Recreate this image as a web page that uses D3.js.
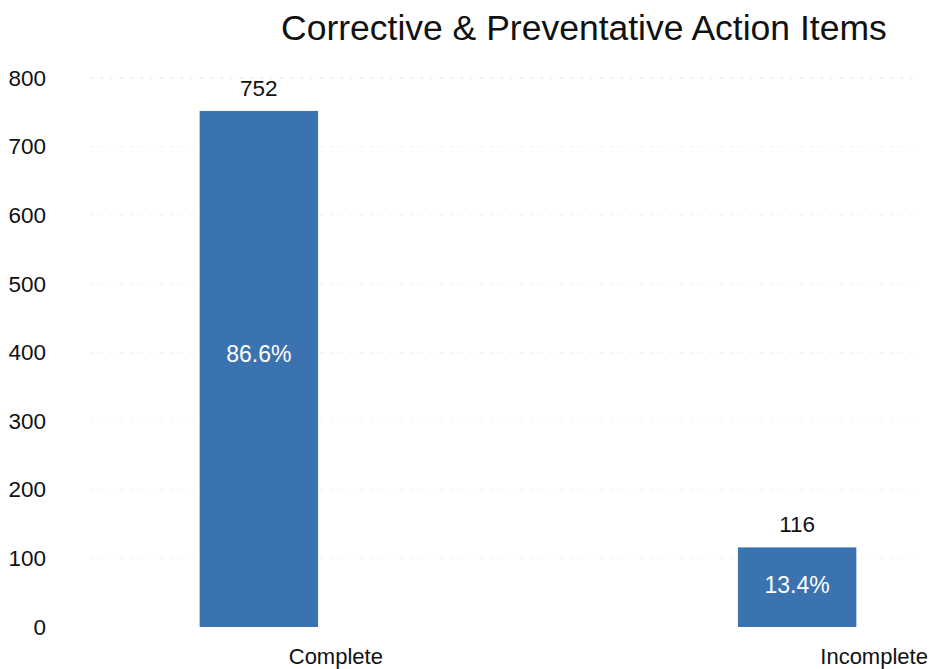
<!DOCTYPE html>
<html lang="en">
<head>
  <meta charset="utf-8">
  <script src="https://d3js.org/d3.v7.min.js"></script>
  <style>
    body { margin: 0; background: #fff; }
    svg text { font-family: "Liberation Sans", Arial, sans-serif; fill: #111; }
  </style>
</head>
<body>
  <div class="chart"></div>

<script>
  // data
  const categories = ['Complete', 'Incomplete'];
  const counts = [752, 116];
  const percents = ['86.6%', '13.4%'];
  const yTicks = [0, 100, 200, 300, 400, 500, 600, 700, 800];

  const width = 932;
  const height = 669;
  const plotTop = 78;
  const plotBottom = 627;

  const svg = d3.select('.chart')
    .append('svg')
    .attr('width', width)
    .attr('height', height);

  const xScale = d3.scaleBand()
    .domain(categories)
    .range([92, 964])
    .paddingInner(0.78)
    .paddingOuter(0.2);

  const yScale = d3.scaleLinear()
    .domain([0, 800])
    .range([plotBottom, plotTop]);

  // faint grid (barely visible in the scan)
  svg.append('g')
    .selectAll('line')
    .data(yTicks.filter(d => d > 0))
    .join('line')
    .attr('x1', 90)
    .attr('x2', 920)
    .attr('y1', d => yScale(d))
    .attr('y2', d => yScale(d))
    .attr('stroke', d => d === 800 ? '#e2e2e2' : '#f0f0f0')
    .attr('stroke-dasharray', '3,7');

  // y axis, labels only
  const yAxis = d3.axisLeft(yScale)
    .tickValues(yTicks)
    .tickSize(0)
    .tickPadding(0);

  svg.append('g')
    .attr('class', 'y-axis')
    .attr('transform', 'translate(46,0)')
    .call(yAxis)
    .call(g => g.select('.domain').remove())
    .selectAll('text')
    .style('font-size', '22.5px')
    .attr('fill', '#111');

  const data = categories.map((c, i) => ({ cat: c, value: counts[i], pct: percents[i] }));

  svg.selectAll('.bars')
    .data(data)
    .join('rect')
    .attr('class', 'bars')
    .attr('x', d => xScale(d.cat))
    .attr('width', xScale.bandwidth())
    .attr('y', d => yScale(d.value))
    .attr('height', d => yScale(0) - yScale(d.value))
    .attr('fill', '#3a73af');

  // value labels above bars
  svg.selectAll('.val')
    .data(data)
    .join('text')
    .attr('class', 'val')
    .attr('x', d => xScale(d.cat) + xScale.bandwidth() / 2)
    .attr('y', d => yScale(d.value) - 15)
    .attr('text-anchor', 'middle')
    .style('font-size', '22.5px')
    .text(d => d.value);

  // percent labels inside bars
  svg.selectAll('.pct')
    .data(data)
    .join('text')
    .attr('class', 'pct')
    .attr('x', d => xScale(d.cat) + xScale.bandwidth() / 2)
    .attr('y', d => yScale(d.value * 0.53))
    .attr('dy', '0.35em')
    .attr('text-anchor', 'middle')
    .style('font-size', '23px')
    .style('fill', '#fff')
    .text(d => d.pct);

  // category labels, shifted right of the bars
  svg.selectAll('.cat')
    .data(data)
    .join('text')
    .attr('class', 'cat')
    .attr('x', d => xScale(d.cat) + xScale.bandwidth() * 1.15)
    .attr('y', plotBottom + 37)
    .attr('text-anchor', 'middle')
    .style('font-size', '22px')
    .text(d => d.cat);

  svg.append('text')
    .attr('x', 281)
    .attr('y', 40)
    .attr('text-anchor', 'start')
    .style('font-size', '35.5px')
    .text('Corrective & Preventative Action Items');
</script>
</body>
</html>
